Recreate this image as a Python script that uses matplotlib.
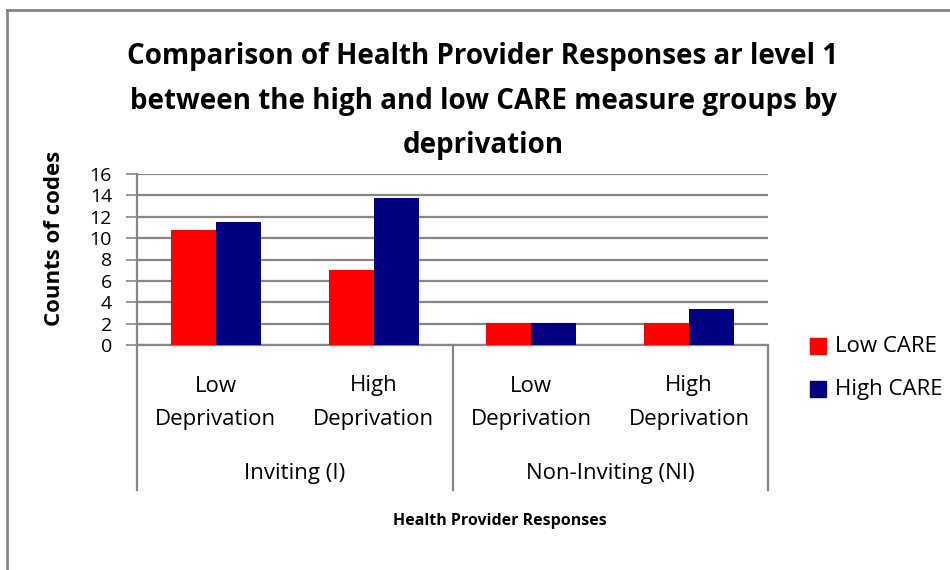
import matplotlib.pyplot as plt
from matplotlib.patches import Rectangle
from matplotlib.lines import Line2D

# Data
groups = ["Inviting (I)", "Non-Inviting (NI)"]
subcats = ["Low\nDeprivation", "High\nDeprivation", "Low\nDeprivation", "High\nDeprivation"]
low_care = [10.8, 7.0, 2.1, 2.1]
high_care = [11.5, 13.8, 2.1, 3.4]
series_names = ["Low CARE", "High CARE"]
colors = ["#ff0000", "#000080"]

plt.rcParams['font.family'] = ['Open Sans', 'DejaVu Sans']

W, H = 950, 570
fig = plt.figure(figsize=(W / 100, H / 100), dpi=100)

def fx(px):
    return px / W

def fy(py):
    return 1 - py / H

# outer frame (only top and left visible)
fig.add_artist(Line2D([fx(7), fx(7)], [fy(10), fy(600)], color="#868686", lw=2))
fig.add_artist(Line2D([fx(7), fx(1000)], [fy(10), fy(10)], color="#868686", lw=2))

left, right, top, bottom = 137, 768, 174, 345
ax = fig.add_axes([fx(left), fy(bottom), fx(right - left), (bottom - top) / H])

x = list(range(len(subcats)))
bw = 0.285
ax.bar([i - bw / 2 for i in x], low_care, width=bw, color=colors[0], zorder=3)
ax.bar([i + bw / 2 for i in x], high_care, width=bw, color=colors[1], zorder=3)

ax.set_xlim(-0.5, 3.5)
ax.set_ylim(0, 16)
ax.set_yticks(range(0, 17, 2))
ax.yaxis.grid(True, color="#868686", lw=1.6, zorder=0)
ax.set_xticks([])
for s in ["top", "right"]:
    ax.spines[s].set_visible(False)
for s in ["left", "bottom"]:
    ax.spines[s].set_color("#868686")
    ax.spines[s].set_linewidth(1.6)
ax.tick_params(axis="y", length=8, width=1.2, color="#868686", pad=10, labelsize=14)

# category labels under the axis
h = bottom - top
for i, lab in enumerate(subcats):
    ax.text(i, -(386 - bottom) / h, lab.split("\n")[0], transform=ax.get_xaxis_transform(),
            ha="center", va="center", fontsize=16, clip_on=False)
    ax.text(i, -(420 - bottom) / h, lab.split("\n")[1], transform=ax.get_xaxis_transform(),
            ha="center", va="center", fontsize=16, clip_on=False)
for g, lab in enumerate(groups):
    ax.text(2 * g + 0.5, -(474 - bottom) / h, lab, transform=ax.get_xaxis_transform(),
            ha="center", va="center", fontsize=16, clip_on=False)
for xs in [-0.5, 1.5, 3.5]:
    ax.add_line(Line2D([xs, xs], [0, -(490 - bottom) / h], transform=ax.get_xaxis_transform(),
                       color="#868686", lw=1.6, clip_on=False))

# title and axis titles
fig.text(fx(483), fy(101), "Comparison of Health Provider Responses ar level 1\n"
         "between the high and low CARE measure groups by\ndeprivation",
         ha="center", va="center", fontsize=20, fontweight="bold", linespacing=1.72)
fig.text(fx(55), fy(238), "Counts of codes", rotation=90, ha="center", va="center",
         fontsize=16, fontweight="bold")
fig.text(fx(500), fy(521), "Health Provider Responses", ha="center", va="center",
         fontsize=11.5, fontweight="bold")

# legend
legend_y = [346, 389]
for k, name in enumerate(series_names):
    yc = legend_y[k]
    fig.add_artist(Rectangle((fx(810), fy(yc + 8)), fx(16), 16 / H, color=colors[k]))
    fig.text(fx(835), fy(yc), name, ha="left", va="center", fontsize=16)

fig.savefig("out.png", dpi=100)
